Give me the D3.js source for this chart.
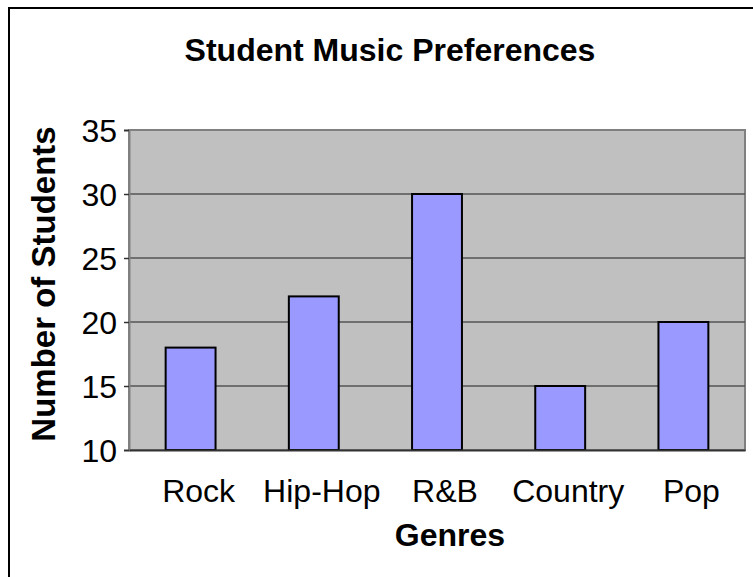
<!DOCTYPE html>
<html><head><meta charset="utf-8">
<script src="https://cdn.jsdelivr.net/npm/d3@7"></script>
<style>body{margin:0;background:#fff}svg{display:block}text{font-family:"Liberation Sans",Arial,sans-serif}</style>
</head><body>
<script>
const categories = ["Rock", "Hip-Hop", "R&B", "Country", "Pop"];
const values = [18, 22, 30, 15, 20];
const yTicks = [10, 15, 20, 25, 30, 35];
const title = "Student Music Preferences";
const xTitle = "Genres";
const yTitle = "Number of Students";

const W = 753, H = 577;
const svg = d3.select("body").append("svg").attr("width", W).attr("height", H);

// outer chart frame (extends past right/bottom edges)
svg.append("rect").attr("x", 9).attr("y", 8).attr("width", 800).attr("height", 640)
  .attr("fill", "#fff").attr("stroke", "#000").attr("stroke-width", 2);

const plot = {left: 129, right: 745, top: 130, bottom: 450};
const x = d3.scaleBand().domain(categories).range([plot.left, plot.right]).paddingInner(0.595).paddingOuter(0.2975);
const y = d3.scaleLinear().domain([10, 35]).range([plot.bottom, plot.top]);

svg.append("rect").attr("x", plot.left).attr("y", plot.top)
  .attr("width", plot.right - plot.left).attr("height", plot.bottom - plot.top)
  .attr("fill", "#c0c0c0").attr("stroke", "#808080").attr("stroke-width", 2);

// gridlines
svg.append("g").selectAll("line").data(yTicks.filter(t => t > 10 && t < 35)).join("line")
  .attr("x1", plot.left).attr("x2", plot.right)
  .attr("y1", d => y(d)).attr("y2", d => y(d))
  .attr("stroke", "#555").attr("stroke-width", 1.5);

// bars
svg.append("g").selectAll("rect").data(values).join("rect")
  .attr("x", (d, i) => x(categories[i]))
  .attr("width", x.bandwidth())
  .attr("y", d => y(d))
  .attr("height", d => y(10) - y(d))
  .attr("fill", "#9999ff").attr("stroke", "#000").attr("stroke-width", 2);

// y axis
const ya = svg.append("g").attr("transform", `translate(${plot.left},0)`)
  .call(d3.axisLeft(y).tickValues(yTicks).tickSize(5).tickPadding(7));
ya.select(".domain").attr("stroke", "#808080").attr("stroke-width", 2);
ya.selectAll(".tick line").attr("stroke", "#333").attr("stroke-width", 1.5);
ya.selectAll(".tick text").attr("font-size", 32).attr("fill", "#000").attr("dy", "0.36em")
  .attr("font-family", "Liberation Sans, Arial, sans-serif");

// x axis
const xa = svg.append("g").attr("transform", `translate(0,${plot.bottom})`)
  .call(d3.axisBottom(x).tickSize(0).tickPadding(29));
xa.select(".domain").attr("stroke", "#333").attr("stroke-width", 2);
xa.selectAll(".tick text").attr("font-size", 32).attr("fill", "#000").attr("dx", 8)
  .attr("font-family", "Liberation Sans, Arial, sans-serif");

svg.append("text").attr("x", 390).attr("y", 61).attr("text-anchor", "middle")
  .attr("font-size", 32).attr("font-weight", "bold").text(title);
svg.append("text").attr("x", 450).attr("y", 546).attr("text-anchor", "middle")
  .attr("font-size", 32).attr("font-weight", "bold").text(xTitle);
svg.append("text").attr("transform", "translate(55,284) rotate(-90)").attr("text-anchor", "middle")
  .attr("font-size", 33).attr("font-weight", "bold").text(yTitle);
</script>
</body></html>
